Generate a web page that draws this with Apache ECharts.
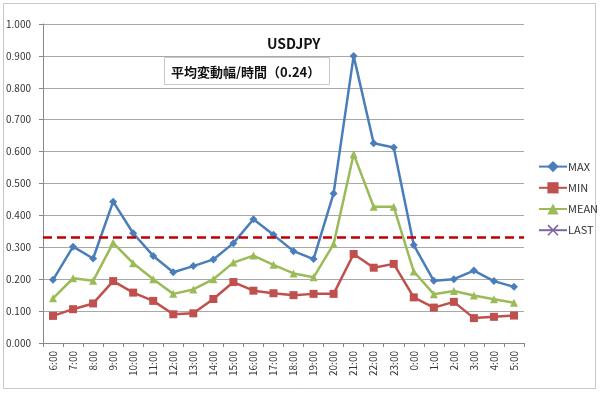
<!DOCTYPE html>
<html><head><meta charset="utf-8">
<script src="https://cdn.jsdelivr.net/npm/echarts@6/dist/echarts.min.js"></script>
<style>html,body{margin:0;padding:0;background:#fff}#c{width:600px;height:394px}</style>
</head><body><div id="c"></div>
<script>
const categories = ['6:00','7:00','8:00','9:00','10:00','11:00','12:00','13:00','14:00','15:00','16:00','17:00','18:00','19:00','20:00','21:00','22:00','23:00','0:00','1:00','2:00','3:00','4:00','5:00'];
const maxValues  = [0.198,0.302,0.265,0.443,0.344,0.273,0.222,0.241,0.262,0.313,0.388,0.339,0.288,0.263,0.469,0.900,0.626,0.613,0.307,0.195,0.200,0.227,0.194,0.176];
const minValues  = [0.085,0.106,0.124,0.194,0.158,0.132,0.090,0.093,0.138,0.191,0.164,0.156,0.150,0.154,0.154,0.279,0.236,0.248,0.143,0.111,0.129,0.078,0.082,0.086];
const meanValues = [0.140,0.203,0.195,0.314,0.250,0.200,0.154,0.168,0.200,0.252,0.274,0.245,0.218,0.206,0.310,0.592,0.427,0.427,0.224,0.153,0.163,0.149,0.137,0.126];
const lastValues = [];
const thresholdValue = 0.328;
const titleText = 'USDJPY';
const boxText = '平均変動幅/時間（0.24）';

const font = '"Noto Sans CJK JP", "Noto Sans", sans-serif';
const chart = echarts.init(document.getElementById('c'), null, {renderer:'canvas'});
const crossPath = 'path://M0,1L1,0L5,4L9,0L10,1L6,5L10,9L9,10L5,6L1,10L0,9L4,5Z';
chart.setOption({
  backgroundColor:'#fff',
  animation:false,
  title:{text:titleText,left:262,top:32,textStyle:{fontFamily:font,fontSize:14,fontWeight:'bold',color:'#111'}},
  graphic:[
    {type:'rect',shape:{x:3.5,y:3.5,width:592,height:385},style:{fill:null,stroke:'#c8c8c8',lineWidth:1},silent:true},
    {type:'rect',shape:{x:164.5,y:57.5,width:165,height:27},style:{fill:'#fff',stroke:'#c8c8c8',lineWidth:1},z:10},
    {type:'text',x:171,y:72,style:{text:boxText,font:'bold 13px '+font,fill:'#111',textVerticalAlign:'middle'},z:11}
  ],
  legend:{
    orient:'vertical',left:533,top:156,itemGap:10,itemWidth:28,itemHeight:14,
    textStyle:{fontFamily:font,fontSize:11,color:'#333',padding:[0,0,0,-4]},
    data:['MAX','MIN','MEAN','LAST']
  },
  grid:{left:43,right:76,top:24,bottom:51},
  xAxis:{
    type:'category',data:categories,boundaryGap:true,
    axisLine:{lineStyle:{color:'#888',width:1}},
    axisTick:{show:true,alignWithLabel:false,length:4,lineStyle:{color:'#888'}},
    axisLabel:{rotate:90,fontSize:10,fontFamily:font,color:'#333',margin:8,interval:0}
  },
  yAxis:{
    type:'value',min:0,max:1,interval:0.1,
    axisLine:{show:true,lineStyle:{color:'#888'}},
    axisTick:{show:true,length:4,lineStyle:{color:'#888'}},
    axisLabel:{formatter:v=>v.toFixed(3),fontSize:10,fontFamily:font,color:'#333',margin:12,align:'right'},
    splitLine:{lineStyle:{color:'#a8a8a8',width:1}}
  },
  series:[
    {name:'MAX',type:'line',data:maxValues,color:'#4a7ebb',symbol:'diamond',symbolSize:8,lineStyle:{width:2.5},
     markLine:{silent:true,symbol:'none',label:{show:false},lineStyle:{color:'#c00000',type:[9,5],width:2.5},data:[{yAxis:thresholdValue}]}},
    {name:'MIN',type:'line',data:minValues,color:'#c0504d',symbol:'rect',symbolSize:8,lineStyle:{width:2.5}},
    {name:'MEAN',type:'line',data:meanValues,color:'#9bbb59',symbol:'triangle',symbolSize:8,lineStyle:{width:2.5}},
    {name:'LAST',type:'line',data:lastValues,color:'#8064a2',symbol:crossPath,symbolSize:8,lineStyle:{width:2.5}}
  ]
});
</script></body></html>
